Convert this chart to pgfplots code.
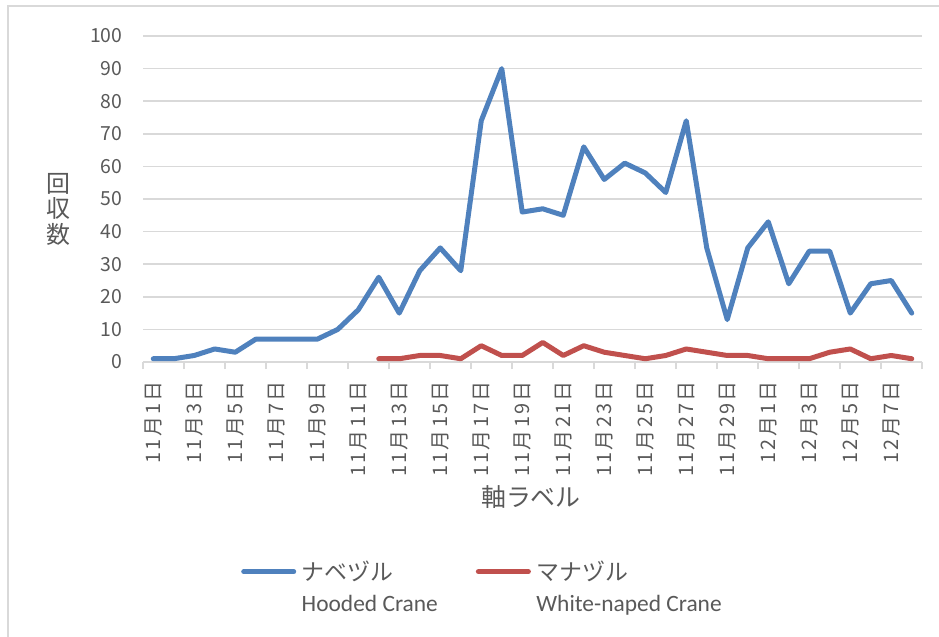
\documentclass[border=0pt]{standalone}
\usepackage{pgfplots}
\pgfplotsset{compat=1.18}
\usepackage{pgfplotstable}
\usepackage{fontspec}
\setmainfont{Noto Sans CJK JP}
\newfontfamily\latinfont{Carlito}
\newfontfamily\datefont[LetterSpace=11]{Noto Sans CJK JP}

\definecolor{hooded}{HTML}{4F81BD}
\definecolor{whitenaped}{HTML}{C0504D}
\definecolor{gridgray}{HTML}{D9D9D9}
\definecolor{labelgray}{HTML}{595959}

% daily counts, day index 0 = 11/1 ... 37 = 12/8
\pgfplotstableread{
idx count
0 1
1 1
2 2
3 4
4 3
5 7
6 7
7 7
8 7
9 10
10 16
11 26
12 15
13 28
14 35
15 28
16 74
17 90
18 46
19 47
20 45
21 66
22 56
23 61
24 58
25 52
26 74
27 35
28 13
29 35
30 43
31 24
32 34
33 34
34 15
35 24
36 25
37 15
}\hoodedtable

\pgfplotstableread{
idx count
11 1
12 1
13 2
14 2
15 1
16 5
17 2
18 2
19 6
20 2
21 5
22 3
23 2
24 1
25 2
26 4
27 3
28 2
29 2
30 1
31 1
32 1
33 3
34 4
35 1
36 2
37 1
}\whitenapedtable

\begin{document}
\begin{tikzpicture}
\useasboundingbox (0bp,0bp) rectangle (939bp,-637bp);
\draw[gridgray, line width=1.5bp] (8bp,-637bp) -- (8bp,-6bp) -- (939bp,-6bp);
\begin{axis}[
  at={(143bp,-362bp)}, anchor=south west,
  scale only axis, width=779bp, height=326bp,
  xmin=-0.5, xmax=37.5, ymin=0, ymax=100,
  axis x line*=bottom, axis y line*=left,
  x axis line style={gridgray, line width=1.5bp, -},
  y axis line style={draw=none},
  xtick={0,2,...,36},
  xticklabels={11月1日,11月3日,11月5日,11月7日,11月9日,11月11日,11月13日,11月15日,11月17日,11月19日,11月21日,11月23日,11月25日,11月27日,11月29日,12月1日,12月3日,12月5日,12月7日},
  minor xtick={-0.5,1.5,...,37.5},
  ytick={0,10,...,100},
  tick align=outside,
  major tick length=0pt,
  minor tick length=7bp,
  minor tick style={gridgray, line width=1.3bp},
  ymajorgrids,
  major grid style={gridgray, line width=1.5bp},
  /pgf/number format/assume math mode=true,
  ticklabel style={font=\fontsize{19.5}{20}\selectfont, text=labelgray},
  xticklabel style={rotate=90, anchor=east, font=\datefont\fontsize{20}{20}\selectfont},
  xticklabel shift=16bp,
  yticklabel shift=17bp,
  xlabel={軸ラベル},
  xlabel style={font=\fontsize{25}{26}\selectfont, text=labelgray,
    at={(axis description cs:0.498,-0.414)}, anchor=center},
  ylabel={回\\収\\数},
  ylabel style={rotate=-90, align=center, font=\fontsize{24}{25.7}\selectfont,
    text=labelgray, at={(axis description cs:-0.109,0.469)}, anchor=center},
  legend columns=2,
  legend image code/.code={
    \draw[line width=5bp, line cap=round] (2.5bp,0bp) -- (52.5bp,0bp);
    \path (0bp,-2.5bp) (55bp,2.5bp);
  },
  legend style={
    at={(axis description cs:0.1229,-0.643)}, anchor=west,
    draw=none, fill=none, inner sep=0pt, outer sep=0pt,
    font=\fontsize{23}{24}\selectfont, text=labelgray,
    nodes={inner sep=0pt},
    /tikz/every odd column/.append style={column sep=3bp},
    /tikz/every even column/.append style={column sep=80bp},
  },
  legend cell align=left,
]
\addplot[hooded, line width=5bp, line join=round, line cap=round]
  table[x=idx, y=count] {\hoodedtable};
\addlegendentry{\rlap{\raisebox{-31bp}[0pt][0pt]{\latinfont\fontsize{23.5}{24}\selectfont Hooded Crane}}ナベヅル}
\addplot[whitenaped, line width=5bp, line join=round, line cap=round]
  table[x=idx, y=count] {\whitenapedtable};
\addlegendentry{\rlap{\raisebox{-31bp}[0pt][0pt]{\latinfont\fontsize{23.5}{24}\selectfont White-naped Crane}}マナヅル}
\end{axis}
\end{tikzpicture}
\end{document}
